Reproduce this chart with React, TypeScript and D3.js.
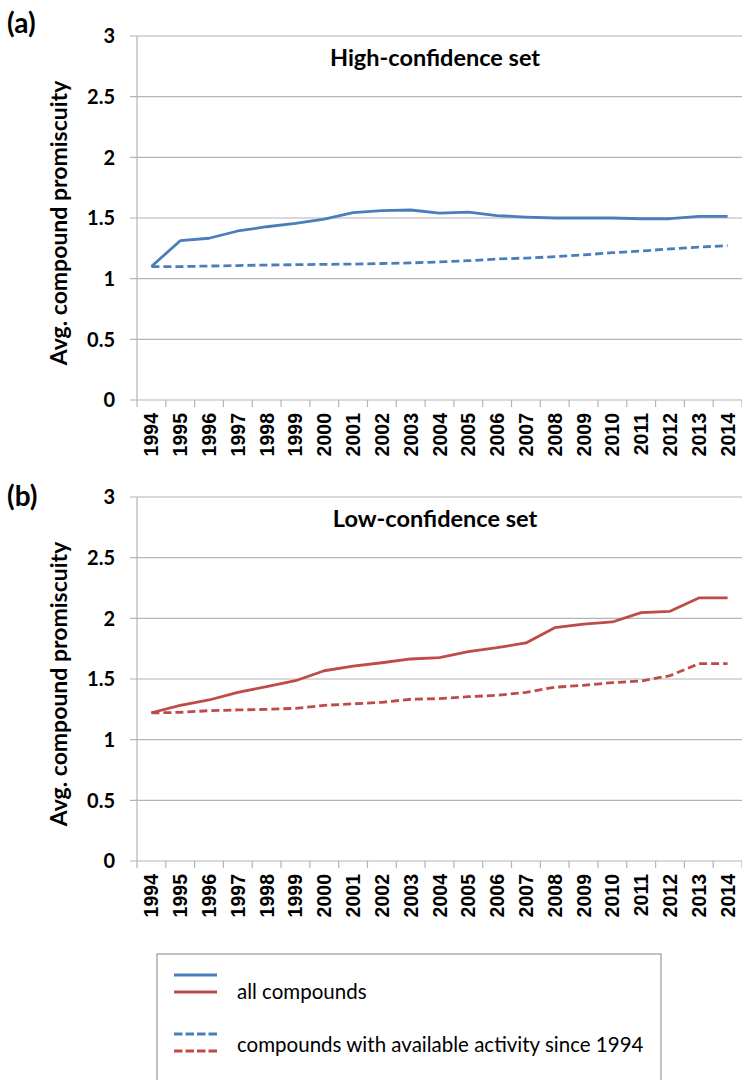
import React from "react";
import * as d3 from "d3";

const years = [
  "1994", "1995", "1996", "1997", "1998", "1999", "2000", "2001", "2002", "2003", "2004",
  "2005", "2006", "2007", "2008", "2009", "2010", "2011", "2012", "2013", "2014",
];
const yTicks = [0, 0.5, 1, 1.5, 2, 2.5, 3];
const yTickLabels = ["0", "0.5", "1", "1.5", "2", "2.5", "3"];

const highAll = [
  1.1, 1.313, 1.333, 1.393, 1.428, 1.456, 1.49, 1.544, 1.56, 1.566, 1.54,
  1.548, 1.52, 1.508, 1.5, 1.5, 1.5, 1.494, 1.494, 1.514, 1.514,
];
const highSince = [
  1.1, 1.1, 1.104, 1.108, 1.112, 1.115, 1.118, 1.12, 1.125, 1.13, 1.138,
  1.148, 1.162, 1.17, 1.181, 1.196, 1.214, 1.228, 1.245, 1.26, 1.272,
];
const lowAll = [
  1.222, 1.283, 1.327, 1.39, 1.437, 1.486, 1.568, 1.607, 1.634, 1.665, 1.676,
  1.725, 1.758, 1.797, 1.923, 1.953, 1.97, 2.047, 2.058, 2.168, 2.168,
];
const lowSince = [
  1.22, 1.225, 1.239, 1.245, 1.25, 1.258, 1.283, 1.295, 1.308, 1.333, 1.338,
  1.354, 1.366, 1.39, 1.432, 1.448, 1.47, 1.484, 1.527, 1.626, 1.626,
];

const BLUE = "#4a7ebb";
const RED = "#be4b48";
const GRID = "#b4b4b4";
const CAL = "Lato, 'Open Sans', sans-serif";
const ARIAL = "'Liberation Sans', Arial, sans-serif";

type PanelProps = {
  letter: string;
  letterY: number;
  title: string;
  top: number;
  bottom: number;
  all: number[];
  since: number[];
  color: string;
};

function Panel({ letter, letterY, title, top, bottom, all, since, color }: PanelProps) {
  const x = d3.scaleBand<string>().domain(years).range([137, 742]).paddingInner(0).paddingOuter(0);
  const y = d3.scaleLinear().domain([0, 3]).range([bottom, top]);
  const cx = (d: string) => (x(d) as number) + x.bandwidth() / 2;
  const line = d3
    .line<number>()
    .x((_, i) => cx(years[i]))
    .y((v) => y(v));
  const boundaries = years.map((d) => x(d) as number).concat([742]);
  const mid = (top + bottom) / 2;
  return (
    <g>
      <text x={7} y={letterY} fontFamily={CAL} fontWeight="bold" fontSize={28} fill="#000">
        {letter}
      </text>
      {yTicks.map((t, i) => (
        <g key={t}>
          <line x1={130} x2={742} y1={y(t)} y2={y(t)} stroke={GRID} strokeWidth={1.2} />
          <text
            x={115}
            y={y(t)}
            dy="0.36em"
            textAnchor="end"
            fontFamily={CAL}
            fontWeight="bold"
            fontSize={20}
            fill="#000"
          >
            {yTickLabels[i]}
          </text>
        </g>
      ))}
      <line x1={137} x2={137} y1={top} y2={bottom} stroke={GRID} strokeWidth={1.2} />
      {boundaries.map((b, i) => (
        <line key={i} x1={b} x2={b} y1={bottom} y2={bottom + 7} stroke={GRID} strokeWidth={1.2} />
      ))}
      {years.map((d) => (
        <text
          key={d}
          transform={`translate(${cx(d)},${bottom + 13}) rotate(-90)`}
          dy="0.36em"
          textAnchor="end"
          fontFamily={ARIAL}
          fontWeight="bold"
          fontSize={19.5}
          fill="#000"
        >
          {d}
        </text>
      ))}
      <text
        transform={`translate(67,${mid + 5}) rotate(-90)`}
        textAnchor="middle"
        fontFamily={CAL}
        fontWeight="bold"
        fontSize={23}
        fill="#000"
      >
        Avg. compound promiscuity
      </text>
      <text x={435} y={top + 30} textAnchor="middle" fontFamily={CAL} fontWeight="bold" fontSize={23.5} fill="#000">
        {title}
      </text>
      <path d={line(since) || ""} fill="none" stroke={color} strokeWidth={2.8} strokeDasharray="8,4" />
      <path d={line(all) || ""} fill="none" stroke={color} strokeWidth={2.8} strokeLinejoin="round" />
    </g>
  );
}

export default function App() {
  return (
    <svg
      width={742}
      height={1080}
      style={{ position: "absolute", left: 0, top: 0, display: "block", background: "#fff" }}
    >
      <rect x={0} y={0} width={742} height={1080} fill="#fff" />
      <Panel letter="(a)" letterY={33} title="High-confidence set" top={36} bottom={400} all={highAll} since={highSince} color={BLUE} />
      <Panel letter="(b)" letterY={506} title="Low-confidence set" top={497} bottom={861} all={lowAll} since={lowSince} color={RED} />
      <rect x={157} y={954} width={504} height={140} fill="none" stroke="#999" strokeWidth={1.2} />
      <line x1={174} x2={217} y1={975} y2={975} stroke={BLUE} strokeWidth={2.8} />
      <line x1={174} x2={217} y1={992} y2={992} stroke={RED} strokeWidth={2.8} />
      <text x={237} y={999} fontFamily={CAL} fontSize={20.5} fill="#000">
        all compounds
      </text>
      <line x1={174} x2={217} y1={1034} y2={1034} stroke={BLUE} strokeWidth={2.8} strokeDasharray="8.5,3" />
      <line x1={174} x2={217} y1={1051} y2={1051} stroke={RED} strokeWidth={2.8} strokeDasharray="8.5,3" />
      <text x={237} y={1052} fontFamily={CAL} fontSize={20.5} fill="#000">
        compounds with available activity since 1994
      </text>
    </svg>
  );
}
